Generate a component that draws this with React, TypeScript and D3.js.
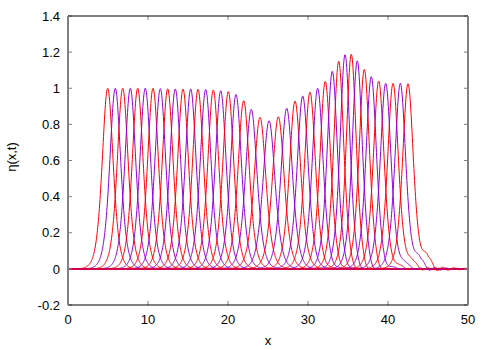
import React from "react";
import * as d3 from "d3";

// Peak positions (x) of each snapshot
const peakX = [
  4.96, 5.91, 6.84, 7.79, 8.71, 9.66, 10.63, 11.54, 12.46, 13.41,
  14.38, 15.34, 16.25, 17.21, 18.16, 19.09, 20.04, 21.0, 21.96, 22.91,
  24.0, 25.13, 26.29, 27.34, 28.38, 29.34, 30.25, 31.21, 32.16, 33.04,
  33.84, 34.63, 35.41, 36.16, 37.04, 37.91, 38.84, 39.71, 40.63, 41.54, 42.5,
];
// Peak heights of each snapshot
const peakH = [
  1.0, 1.0, 1.0, 1.0, 1.0, 1.0, 1.0, 0.998, 0.997, 0.996,
  0.995, 0.995, 0.994, 0.993, 0.99, 0.986, 0.981, 0.966, 0.931, 0.883,
  0.839, 0.82, 0.842, 0.889, 0.929, 0.957, 0.978, 1.0, 1.038, 1.094,
  1.149, 1.186, 1.188, 1.152, 1.104, 1.064, 1.04, 1.027, 1.027, 1.027, 1.025,
];
// Depth of the small negative trough after the pulse
const dipDepth = [
  0, 0, 0, 0, 0, 0, 0, 0, 0, 0,
  0, 0, 0, 0, 0, 0, 0, 0, 0, 0,
  0, 0, 0, 0, 0, 0.005, 0.01, 0.015, 0.02, 0.022,
  0.025, 0.028, 0.03, 0.032, 0.033, 0.03, 0.02, 0.01, 0.005, 0, 0,
];
// Height of the low shoulder trailing on the right of the pulse
const shoulderH = [
  0, 0, 0, 0, 0, 0, 0, 0, 0, 0,
  0, 0, 0, 0, 0, 0, 0, 0, 0, 0,
  0, 0, 0, 0, 0, 0, 0, 0, 0, 0,
  0, 0, 0, 0, 0, 0.01, 0.02, 0.03, 0.04, 0.055, 0.065,
];
const colors = ["#ff0000", "#9400d3"];
const xTicks = [0, 10, 20, 30, 40, 50];
const yTicks = [-0.2, 0, 0.2, 0.4, 0.6, 0.8, 1, 1.2, 1.4];

const W = 500;
const H = 350;
const L = 68, R = 468, T = 16, B = 305;

const x = d3.scaleLinear().domain([0, 50]).range([L, R]);
const y = d3.scaleLinear().domain([-0.2, 1.4]).range([B, T]);

const sech2 = (u: number) => {
  const c = Math.cosh(u);
  return 1 / (c * c);
};

function profile(i: number, xv: number) {
  const A = peakH[i];
  const k = 1.1 * Math.sqrt(A);
  const d = xv - peakX[i];
  let v = A * sech2(k * d);
  if (dipDepth[i]) v -= dipDepth[i] * Math.exp(-((d - 1.9) * (d - 1.9)) / 0.35);
  if (shoulderH[i]) {
    v += shoulderH[i] * Math.exp(-((d - 2.3) * (d - 2.3)) / 0.4);
    if (d > 2.6) v += shoulderH[i] * 0.25 * Math.sin((d - 2.6) * 4.5) * Math.exp(-(d - 2.6) / 3);
  }
  return v;
}

const xs = d3.range(0, 50.001, 0.04);
const line = d3
  .line<number>()
  .x((d) => x(d))
  .curve(d3.curveLinear);

const fmt = (v: number) => String(+v.toFixed(1));

export default function App() {
  const font = "'Liberation Sans', Arial, sans-serif";
  return (
    <svg
      width={W}
      height={H}
      style={{ position: "fixed", left: 0, top: 0, background: "#fff" }}
      fontFamily={font}
    >
      <defs>
        <clipPath id="plot">
          <rect x={L} y={T} width={R - L} height={B - T} />
        </clipPath>
      </defs>
      <rect x={0} y={0} width={W} height={H} fill="#fff" />
      <g clipPath="url(#plot)">
        {peakX.map((_, i) => (
          <path
            key={i}
            d={line.y((xv) => y(profile(i, xv)))(xs) || ""}
            fill="none"
            stroke={colors[i % 2]}
            strokeWidth={1}
          />
        ))}
      </g>
      {/* ticks */}
      {xTicks.map((t) => (
        <g key={"x" + t}>
          <line x1={x(t)} x2={x(t)} y1={B} y2={B - 4} stroke="#808080" />
          <line x1={x(t)} x2={x(t)} y1={T} y2={T + 4} stroke="#808080" />
          <text x={x(t)} y={324} fontSize={13} textAnchor="middle" fill="#000">
            {fmt(t)}
          </text>
        </g>
      ))}
      {yTicks.map((t) => (
        <g key={"y" + t}>
          <line x1={L} x2={L + 4} y1={y(t)} y2={y(t)} stroke="#808080" />
          <line x1={R} x2={R - 4} y1={y(t)} y2={y(t)} stroke="#808080" />
          <text x={60} y={y(t)} dy="0.36em" fontSize={13} textAnchor="end" fill="#000">
            {fmt(t)}
          </text>
        </g>
      ))}
      {/* border */}
      <line x1={L} x2={R} y1={T} y2={T} stroke="#000" strokeWidth={1} />
      <line x1={L} x2={R} y1={B} y2={B} stroke="#000" strokeWidth={1} />
      <line x1={L} x2={L} y1={T} y2={B} stroke="#808080" strokeWidth={2} />
      <line x1={R} x2={R} y1={T} y2={B} stroke="#808080" strokeWidth={2} />
      <text x={(L + R) / 2} y={345} fontSize={13} textAnchor="middle" fill="#000">
        x
      </text>
      <text transform="translate(16,157) rotate(-90)" fontSize={13} textAnchor="middle" fill="#000">
        η(x,t)
      </text>
    </svg>
  );
}
